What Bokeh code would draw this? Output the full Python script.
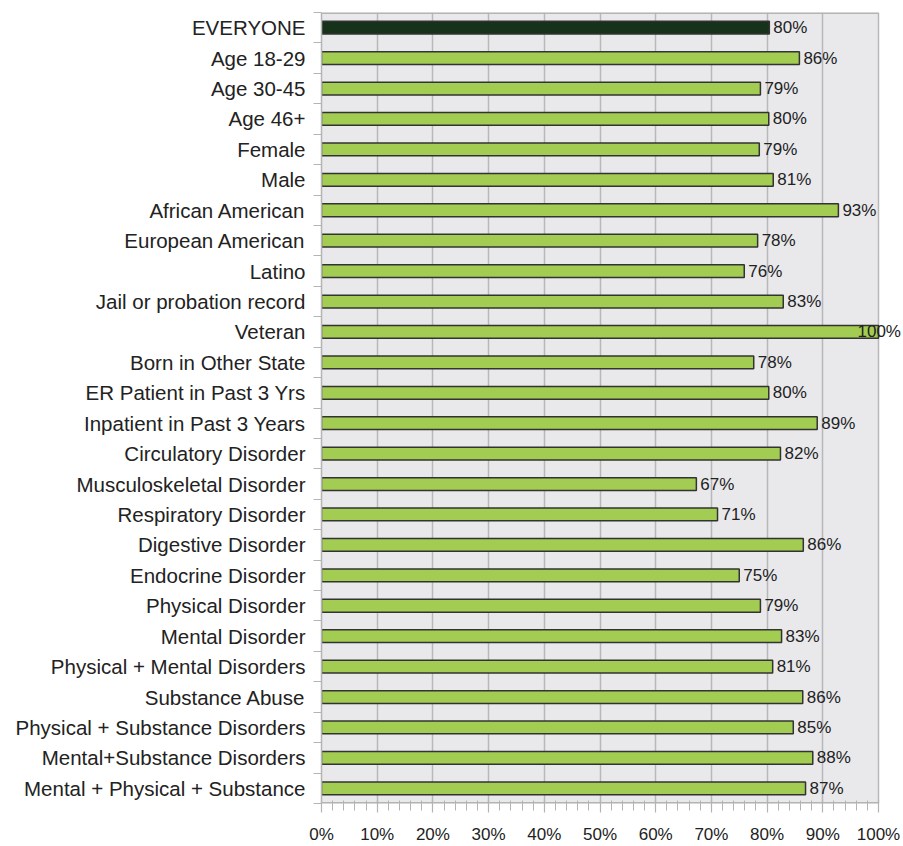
from bokeh.plotting import figure
from bokeh.models import Range1d, FixedTicker, ColumnDataSource, Label
from bokeh.embed import file_html
from bokeh.resources import INLINE

categories = [
    "EVERYONE", "Age 18-29", "Age 30-45", "Age 46+", "Female", "Male",
    "African American", "European American", "Latino", "Jail or probation record",
    "Veteran", "Born in Other State", "ER Patient in Past 3 Yrs",
    "Inpatient in Past 3 Years", "Circulatory Disorder", "Musculoskeletal Disorder",
    "Respiratory Disorder", "Digestive Disorder", "Endocrine Disorder",
    "Physical Disorder", "Mental Disorder", "Physical + Mental Disorders",
    "Substance Abuse", "Physical + Substance Disorders", "Mental+Substance Disorders",
    "Mental + Physical + Substance",
]
values = [80.4, 85.8, 78.8, 80.3, 78.6, 81.1, 92.8, 78.3, 75.9, 82.9,
          100.0, 77.6, 80.3, 89.0, 82.4, 67.3, 71.1, 86.5, 75.0, 78.8,
          82.6, 81.0, 86.4, 84.7, 88.2, 86.9]
labels = ["80%", "86%", "79%", "80%", "79%", "81%", "93%", "78%", "76%", "83%",
          "100%", "78%", "80%", "89%", "82%", "67%", "71%", "86%", "75%", "79%",
          "83%", "81%", "86%", "85%", "88%", "87%"]
tick_values = [0, 10, 20, 30, 40, 50, 60, 70, 80, 90, 100]
tick_labels = ["0%", "10%", "20%", "30%", "40%", "50%", "60%", "70%", "80%", "90%", "100%"]

n = len(categories)
ys = [i + 0.5 for i in range(n)]
fills = ["#17321a" if i == 0 else "#a3cd52" for i in range(n)]
x_max = tick_values[-1]
# frame runs to the right edge of the canvas so the "100%" label is not clipped;
# 100% sits 25px left of the canvas edge (plot area 557px wide)
x_end = x_max + 25 * x_max / 557.0

src = ColumnDataSource(dict(y=ys, v=values, fill=fills))

p = figure(width=903, height=846, output_backend="svg", toolbar_location=None,
           x_range=Range1d(0, x_end), y_range=Range1d(n, 0),
           min_border_left=321, min_border_right=0, min_border_top=12,
           min_border_bottom=43)
p.background_fill_color = "white"
p.border_fill_color = "white"
p.outline_line_color = None

# plot area background
p.quad(left=0, right=x_max, bottom=n, top=0, fill_color="#e9e9ec",
       line_color=None, level="image")
# top and bottom border of plot area
p.segment(x0=[0, 0], y0=[0, n], x1=[x_max, x_max], y1=[0, n],
          line_color="#b4b4b4", line_width=3)

p.hbar(y="y", left=0, right="v", height=0.42, fill_color="fill",
       line_color="#333333", line_width=1.5, source=src)
for y, v, lab in zip(ys, values, labels):
    p.add_layout(Label(x=v, y=y, text=lab, x_offset=(-21 if v >= 99 else 4),
                       text_align="left", text_baseline="middle",
                       text_font_size="17px", text_color="#222222",
                       text_font="Liberation Sans"))

# x axis
p.xaxis.ticker = FixedTicker(ticks=tick_values, minor_ticks=list(range(0, 101, 2)))
p.xaxis.major_label_overrides = {t: l for t, l in zip(tick_values, tick_labels)}
p.xaxis.major_label_text_font = "Liberation Sans"
p.xaxis.major_label_text_font_size = "17px"
p.xaxis.major_label_text_color = "#222222"
p.xaxis.major_label_standoff = 12
p.xaxis.axis_line_color = None
p.xaxis.major_tick_line_color = "#b4b4b4"
p.xaxis.minor_tick_line_color = "#b4b4b4"
p.xaxis.major_tick_out = 9
p.xaxis.major_tick_in = 3
p.xaxis.minor_tick_out = 7
p.xaxis.minor_tick_in = 3
p.xaxis.major_tick_line_width = 1.2
p.xaxis.minor_tick_line_width = 1

# y axis
p.yaxis.ticker = FixedTicker(ticks=ys, minor_ticks=list(range(0, n + 1)))
p.yaxis.major_label_overrides = {y: c for y, c in zip(ys, categories)}
p.yaxis.major_label_text_font = "Liberation Sans"
p.yaxis.major_label_text_font_size = "20.5px"
p.yaxis.major_label_text_color = "#222222"
p.yaxis.major_tick_out = 0
p.yaxis.major_tick_in = 0
p.yaxis.minor_tick_out = 8
p.yaxis.minor_tick_in = 0
p.yaxis.minor_tick_line_color = "#b4b4b4"
p.yaxis.minor_tick_line_width = 1.2
p.yaxis.major_label_standoff = 8
p.yaxis.axis_line_color = "#b4b4b4"
p.yaxis.axis_line_width = 1.5

p.xgrid.ticker = FixedTicker(ticks=tick_values)
p.xgrid.grid_line_color = "#b8b8b8"
p.xgrid.grid_line_width = 1.5
p.ygrid.grid_line_color = None

open("out.html", "w").write(file_html(p, INLINE))
